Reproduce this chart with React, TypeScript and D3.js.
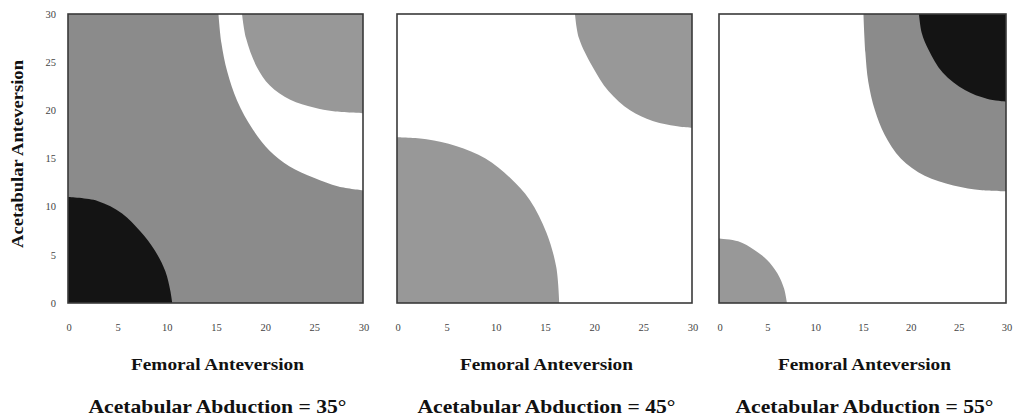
import * as d3 from "d3";
import React from "react";

// tick values shared by both axes
const xTicks = [0, 5, 10, 15, 20, 25, 30];
const yTicks = [0, 5, 10, 15, 20, 25, 30];
const abductions = [35, 45, 55];

// boundaries, [femoral, acetabular] in degrees
// 35 deg panel
const p35Dark = [[0, 11.0], [3, 10.6], [5.5, 9.3], [7.3, 7.5], [8.8, 5.5], [9.9, 3.3], [10.4, 1.3], [10.6, 0]];
const p35WhiteBand = [[15.3, 30], [15.6, 27], [16.2, 24], [17.2, 21], [18.8, 18], [20.5, 15.8], [22.5, 14.2], [25, 13], [27.5, 12.1], [30, 11.7]];
const p35UpperGrey = [[17.7, 30], [18.1, 27.5], [19.2, 24.5], [20.5, 22.6], [22.6, 21.1], [25, 20.3], [27, 19.9], [30, 19.7]];
// 45 deg panel
const p45LowerGrey = [[0, 17.2], [3, 17], [6, 16.3], [9, 15], [11.5, 13], [13.5, 10.7], [15.2, 7.3], [16.2, 3.7], [16.5, 0]];
const p45UpperGrey = [[18.1, 30], [18.5, 27.5], [19.9, 24.5], [21.5, 22], [23.7, 20], [26, 18.9], [28.8, 18.3], [30, 18.2]];
// 55 deg panel
const p55LowerGrey = [[0, 6.7], [2, 6.4], [3.7, 5.5], [5, 4.5], [6.1, 3.1], [6.8, 1.5], [7.1, 0]];
const p55UpperGrey = [[15.1, 30], [15.3, 26], [15.6, 23], [16.3, 20], [17.3, 17.5], [19, 15], [21.5, 13.2], [24.5, 12.2], [27.5, 11.7], [30, 11.6]];
const p55Dark = [[20.9, 30], [21.2, 28], [21.9, 26.3], [23.4, 23.9], [25.7, 22.1], [28, 21.2], [30, 20.9]];

const COLORS = {
  dark: "#141414",
  grey: "#8b8b8b",
  lightGrey: "#989898",
  white: "#ffffff",
};

const panels = [
  {
    bg: COLORS.grey,
    regions: [
      { pts: p35WhiteBand, corner: "tr", fill: COLORS.white },
      { pts: p35UpperGrey, corner: "tr", fill: COLORS.lightGrey },
      { pts: p35Dark, corner: "bl", fill: COLORS.dark },
    ],
  },
  {
    bg: COLORS.white,
    regions: [
      { pts: p45LowerGrey, corner: "bl", fill: COLORS.lightGrey },
      { pts: p45UpperGrey, corner: "tr", fill: COLORS.lightGrey },
    ],
  },
  {
    bg: COLORS.white,
    regions: [
      { pts: p55LowerGrey, corner: "bl", fill: COLORS.lightGrey },
      { pts: p55UpperGrey, corner: "tr", fill: COLORS.grey },
      { pts: p55Dark, corner: "tr", fill: COLORS.dark },
    ],
  },
];

const WIDTH = 1014;
const HEIGHT = 420;
const lefts = [68, 397, 719];
const widths = [295, 295, 287];
const TOP = 14;
const BOTTOM = 303;
const serif = "'Liberation Serif', 'DejaVu Serif', serif";

function Panel({ idx }: { idx: number }) {
  const p = panels[idx];
  const left = lefts[idx];
  const PW = widths[idx];
  const x = d3.scaleLinear().domain([0, 30]).range([left, left + PW]);
  const y = d3.scaleLinear().domain([0, 30]).range([BOTTOM, TOP]);
  const line = d3
    .line<number[]>()
    .x((d) => x(d[0]))
    .y((d) => y(d[1]))
    .curve(d3.curveCatmullRom);

  const regionPath = (pts: number[][], corner: string) => {
    const c = corner === "tr" ? [30, 30] : [0, 0];
    return `${line(pts)}L${x(c[0])},${y(c[1])}Z`;
  };

  const cx = left + PW / 2;
  return (
    <g>
      <clipPath id={`clip${idx}`}>
        <rect x={x(0)} y={y(30)} width={x(30) - x(0)} height={y(0) - y(30)} />
      </clipPath>
      <rect x={x(0)} y={y(30)} width={x(30) - x(0)} height={y(0) - y(30)} fill={p.bg} />
      <g clipPath={`url(#clip${idx})`}>
        {p.regions.map((r, i) => (
          <path key={i} d={regionPath(r.pts, r.corner)} fill={r.fill} />
        ))}
      </g>
      <rect
        x={x(0)}
        y={y(30)}
        width={x(30) - x(0)}
        height={y(0) - y(30)}
        fill="none"
        stroke="#3a3a3a"
        strokeWidth={1.6}
      />
      {/* x ticks */}
      {xTicks.map((t) => (
        <text key={t} x={x(t) + 1} y={327} dy="0.35em" fontSize={10.5} textAnchor="middle" fill="#444" fontFamily={serif}>
          {t}
        </text>
      ))}
      {/* y ticks only on first panel */}
      {idx === 0 &&
        yTicks.map((t) => (
          <text key={t} x={56} y={y(t)} dy="0.35em" fontSize={10.5} textAnchor="end" fill="#444" fontFamily={serif}>
            {t}
          </text>
        ))}
      <text x={cx + 2} y={364} dy="0.35em" fontSize={17} fontWeight="bold" textAnchor="middle" fontFamily={serif} textLength={173} lengthAdjust="spacingAndGlyphs" fill="#111">
        Femoral Anteversion
      </text>
      <text x={cx + 2} y={406} dy="0.35em" fontSize={19} fontWeight="bold" textAnchor="middle" fontFamily={serif} textLength={258} lengthAdjust="spacingAndGlyphs" fill="#111">
        {`Acetabular Abduction = ${abductions[idx]}°`}
      </text>
    </g>
  );
}

export default function App() {
  return (
    <svg width={WIDTH} height={HEIGHT} style={{ position: "absolute", left: 0, top: 0, background: "#fff" }}>
      {panels.map((_, i) => (
        <Panel key={i} idx={i} />
      ))}
      <text
        transform={`translate(17,154) rotate(-90)`}
        dy="0.35em"
        fontSize={16}
        fontWeight="bold"
        textAnchor="middle"
        fontFamily={serif}
        textLength={188}
        lengthAdjust="spacingAndGlyphs"
        fill="#111"
      >
        Acetabular Anteversion
      </text>
    </svg>
  );
}
